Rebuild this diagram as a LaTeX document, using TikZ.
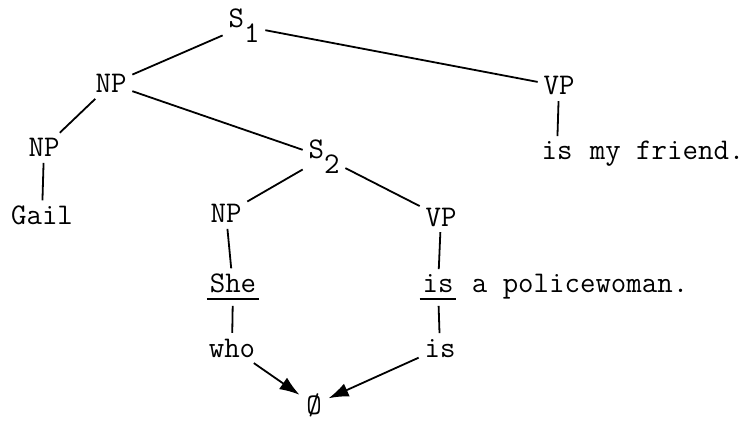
\documentclass[tikz,border=0pt]{standalone}
\usepackage{fontspec}
\usetikzlibrary{arrows.meta}
\newcommand{\lowsub}[1]{\raisebox{-0.5em}{#1}}
\newcommand{\uword}[1]{\setbox0\hbox{#1}\rlap{\hspace{-3pt}\rule[-7pt]{\dimexpr\wd0+6pt\relax}{1.8pt}}#1}

\begin{document}
\begin{tikzpicture}[x=1pt,y=-1pt,line width=1.8pt,
    font=\fontsize{30}{34}\selectfont\ttfamily,
    lbl/.style={anchor=base,inner sep=5pt},
    word/.style={anchor=base west,inner sep=0pt},
    toempty/.style={-{Latex[length=20pt,width=14pt]},shorten >=1pt}]
   \useasboundingbox (0,0) rectangle (756,425);
   \node[lbl] (S1) at (244,28) {S\lowsub{1}};
   \node[lbl] (NP1) at (111,93) {NP};
   \node[lbl] (VP1) at (559,95) {VP};
   \node[lbl] (NP2) at (44,157) {NP};
   \node[lbl] (Gail) at (42,225) {Gail};
   \node[lbl] (S2) at (324,159) {S\lowsub{2}};
   \node[lbl] (is1) at (557,160) {is};
   \node[word] (friend) at (589,160) {my friend.};
   \node[lbl] (NP3) at (226,223) {NP};
   \node[lbl] (VP2) at (441,226) {VP};
   \node[lbl] (She) at (233,293) {\uword{She}};
   \node[lbl] (is2) at (438,293) {\uword{is}};
   \node[word] (police) at (471,293) {a policewoman.};
   \node[lbl] (who) at (232,357) {who};
   \node[lbl] (is3) at (440,357) {is};
   \node[lbl] (empty) at (314,414) {Ø};
   \path[-] (S1) edge (NP1)  (S1) edge (VP1)  (NP1) edge (NP2)
            (NP1) edge (S2)  (NP2) edge (Gail)  (VP1) edge (is1)
            (S2) edge (NP3)  (S2) edge (VP2)  (NP3) edge (She)
            (VP2) edge (is2)  (She) edge (who)  (is2) edge (is3);
   \path[toempty] (who) edge (empty)  (is3) edge (empty);
  \end{tikzpicture}
\end{document}
